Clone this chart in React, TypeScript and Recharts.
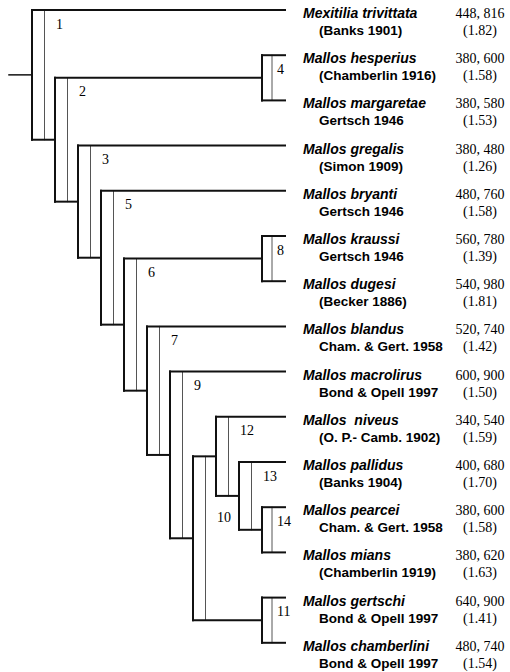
import React from "react";
import { ScatterChart, Scatter, XAxis, YAxis, ReferenceLine } from "recharts";

// terminal taxa, top to bottom
const species = [
  "Mexitilia trivittata",
  "Mallos hesperius",
  "Mallos margaretae",
  "Mallos gregalis",
  "Mallos bryanti",
  "Mallos kraussi",
  "Mallos dugesi",
  "Mallos blandus",
  "Mallos macrolirus",
  "Mallos  niveus",
  "Mallos pallidus",
  "Mallos pearcei",
  "Mallos mians",
  "Mallos gertschi",
  "Mallos chamberlini",
];

const authorities = [
  "(Banks 1901)",
  "(Chamberlin 1916)",
  "Gertsch 1946",
  "(Simon 1909)",
  "Gertsch 1946",
  "Gertsch 1946",
  "(Becker 1886)",
  "Cham. & Gert. 1958",
  "Bond & Opell 1997",
  "(O. P.- Camb. 1902)",
  "(Banks 1904)",
  "Cham. & Gert. 1958",
  "(Chamberlin 1919)",
  "Bond & Opell 1997",
  "Bond & Opell 1997",
];

const sizeRanges = [
  "448, 816",
  "380, 600",
  "380, 580",
  "380, 480",
  "480, 760",
  "560, 780",
  "540, 980",
  "520, 740",
  "600, 900",
  "340, 540",
  "400, 680",
  "380, 600",
  "380, 620",
  "640, 900",
  "480, 740",
];

const sizeRatios = [
  "(1.82)",
  "(1.58)",
  "(1.53)",
  "(1.26)",
  "(1.58)",
  "(1.39)",
  "(1.81)",
  "(1.42)",
  "(1.50)",
  "(1.59)",
  "(1.70)",
  "(1.58)",
  "(1.63)",
  "(1.41)",
  "(1.54)",
];

// clades: rank = steps from the root, kids = tip index (number) or clade id
type Kid = number | string;
const clades: { id: string; rank: number; kids: Kid[] }[] = [
  { id: "1", rank: 0, kids: [0, "2"] },
  { id: "2", rank: 1, kids: ["4", "3"] },
  { id: "4", rank: 10, kids: [1, 2] },
  { id: "3", rank: 2, kids: [3, "5"] },
  { id: "5", rank: 3, kids: [4, "6"] },
  { id: "6", rank: 4, kids: ["8", "7"] },
  { id: "8", rank: 10, kids: [5, 6] },
  { id: "7", rank: 5, kids: [7, "9"] },
  { id: "9", rank: 6, kids: [8, "10"] },
  { id: "10", rank: 7, kids: ["12", "11"] },
  { id: "12", rank: 8, kids: [9, "13"] },
  { id: "13", rank: 9, kids: [10, "14"] },
  { id: "14", rank: 10, kids: [11, 12] },
  { id: "11", rank: 10, kids: [13, 14] },
];

const TIP_RANK = 11;
const STEM_RANK = -1;

// drawing scale
const W = 510;
const H = 672;
const PX_RANK = 23;
const X0 = 32;
const PX_ROW = 45.2;
const Y0 = 10;
const xDomain = [-X0 / PX_RANK, (W - X0) / PX_RANK];
const yDomain = [-Y0 / PX_ROW, (H - Y0) / PX_ROW];

const LABEL_DROP: Record<string, number> = { "10": 66 };

const byId = new Map(clades.map((c) => [c.id, c]));
const yOf = (k: Kid): number => {
  if (typeof k === "number") return k;
  const c = byId.get(k)!;
  return (yOf(c.kids[0]) + yOf(c.kids[c.kids.length - 1])) / 2;
};
const xOf = (k: Kid): number => (typeof k === "number" ? TIP_RANK : byId.get(k)!.rank);
const isBracket = (c: { kids: Kid[] }) => c.kids.every((k) => typeof k === "number");

type Seg = { a: { x: number; y: number }; b: { x: number; y: number }; w: number; color: string };
const segments: Seg[] = [];
const root = clades[0];
segments.push({ a: { x: STEM_RANK, y: yOf(root.id) }, b: { x: root.rank, y: yOf(root.id) }, w: 1.5, color: "#111" });
clades.forEach((c) => {
  const top = yOf(c.kids[0]);
  const bot = yOf(c.kids[c.kids.length - 1]);
  const off = (isBracket(c) ? 10 : 12.5) / PX_RANK;
  segments.push({ a: { x: c.rank, y: top }, b: { x: c.rank, y: bot }, w: 2, color: "#111" });
  segments.push({ a: { x: c.rank + off, y: top }, b: { x: c.rank + off, y: bot }, w: 1, color: "#555" });
  c.kids.forEach((k) => {
    segments.push({ a: { x: c.rank, y: yOf(k) }, b: { x: xOf(k), y: yOf(k) }, w: 2, color: "#111" });
  });
});

const tipRows = species.map((name, i) => ({
  x: TIP_RANK,
  y: i,
  name,
  author: authorities[i],
  range: sizeRanges[i],
  ratio: sizeRatios[i],
}));

const cladeLabels = clades.map((c) => ({
  x: c.rank,
  y: yOf(c.kids[0]),
  id: c.id,
  bracket: isBracket(c),
}));

const SANS = "'Liberation Sans', Arial, sans-serif";
const SERIF = "'Liberation Serif', 'Times New Roman', serif";

const TipText = (props: any) => {
  const { cx, cy, payload } = props;
  return (
    <g>
      <text x={cx + 18} y={cy + 8} fontFamily={SANS} fontSize={14} fontWeight="bold" fontStyle="italic" fill="#000" style={{ whiteSpace: "pre" }}>
        {payload.name}
      </text>
      <text x={cx + 34} y={cy + 25} fontFamily={SANS} fontSize={13.5} fontWeight="bold" fill="#000">
        {payload.author}
      </text>
      <text x={cx + 195} y={cy + 8} fontFamily={SERIF} fontSize={14} textAnchor="middle" fill="#000">
        {payload.range}
      </text>
      <text x={cx + 195} y={cy + 25} fontFamily={SERIF} fontSize={14} textAnchor="middle" fill="#000">
        {payload.ratio}
      </text>
    </g>
  );
};

const CladeText = (props: any) => {
  const { cx, cy, payload } = props;
  const dx = payload.bracket ? 15 : 24;
  const dy = LABEL_DROP[payload.id] ?? 18.5;
  return (
    <text x={cx + dx} y={cy + dy} fontFamily={SERIF} fontSize={14} fill="#000">
      {payload.id}
    </text>
  );
};

export default function App() {
  return (
    <div style={{ position: "absolute", left: 0, top: 0, width: W, height: H, background: "#fff" }}>
      <ScatterChart width={W} height={H} margin={{ top: 0, right: 0, bottom: 0, left: 0 }}>
        <XAxis type="number" dataKey="x" domain={xDomain} allowDataOverflow hide />
        <YAxis type="number" dataKey="y" domain={yDomain} allowDataOverflow reversed hide />
        {segments.map((s, i) => (
          <ReferenceLine
            key={i}
            segment={[s.a, s.b]}
            stroke={s.color}
            strokeWidth={s.w}
            strokeLinecap="square"
            ifOverflow="visible"
          />
        ))}
        <Scatter data={cladeLabels} shape={CladeText} isAnimationActive={false} />
        <Scatter data={tipRows} shape={TipText} isAnimationActive={false} />
      </ScatterChart>
    </div>
  );
}
